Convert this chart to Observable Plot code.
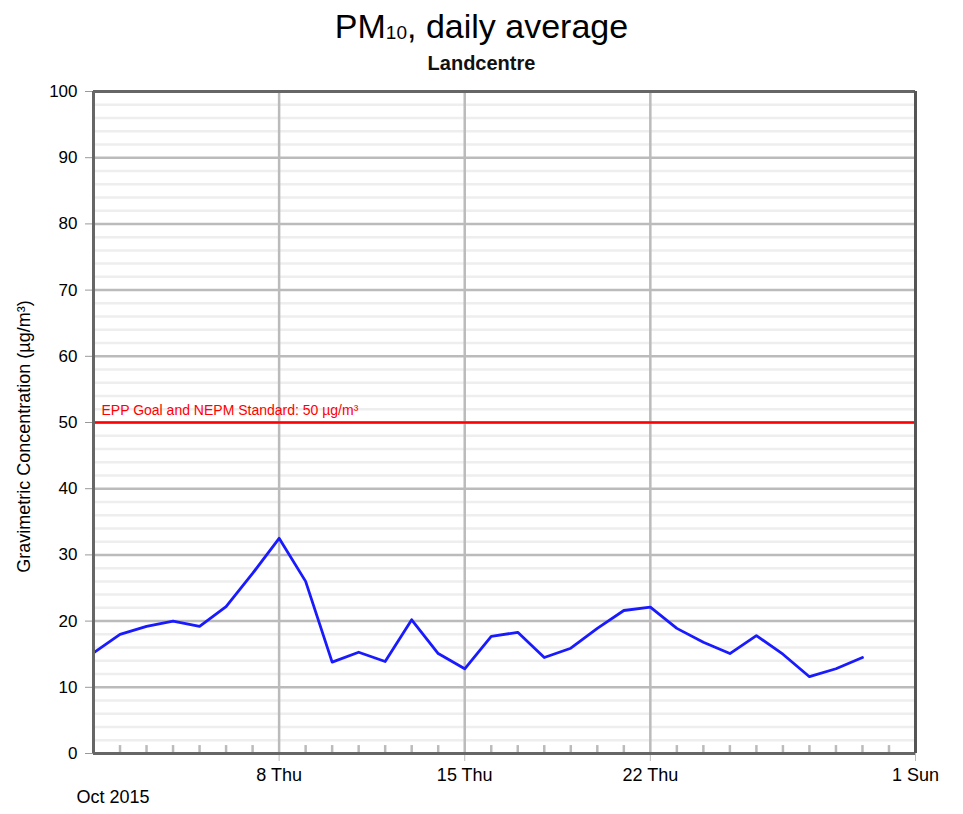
<!DOCTYPE html>
<html><head><meta charset="utf-8">
<script src="https://cdn.jsdelivr.net/npm/d3@7"></script>
<script src="https://cdn.jsdelivr.net/npm/@observablehq/plot@0.6"></script>
<style>
body{margin:0;background:#fff;font-family:"Liberation Sans",Arial,sans-serif;width:963px;height:814px;position:relative;overflow:hidden}
#title{position:absolute;left:0;top:7px;width:963px;text-align:center;font-size:34px;line-height:38px;color:#000}
#title sub{font-size:19px;vertical-align:baseline;position:relative;top:1px;line-height:0}
#subtitle{position:absolute;left:0;top:51px;width:963px;text-align:center;font-size:20px;line-height:24px;font-weight:bold;color:#111}
#chart{position:absolute;left:0;top:74px}
</style></head><body>
<div id="title">PM<sub>10</sub>, daily average</div>
<div id="subtitle">Landcentre</div>
<div id="chart"></div>
<script>
// Day of month (October 2015) and daily PM10 averages (µg/m³)
const days = [1,2,3,4,5,6,7,8,9,10,11,12,13,14,15,16,17,18,19,20,21,22,23,24,25,26,27,28,29,30];
const pm10 = [15.2,18.0,19.2,20.0,19.2,22.2,27.2,32.5,26.0,13.8,15.3,13.9,20.2,15.1,12.8,17.7,18.3,14.5,15.9,18.9,21.6,22.1,18.9,16.8,15.1,17.8,15.0,11.6,12.8,14.5];
const yMajor = [10,20,30,40,50,60,70,80,90];
const yMinor = [2,4,6,8,12,14,16,18,22,24,26,28,32,34,36,38,42,44,46,48,52,54,56,58,62,64,66,68,72,74,76,78,82,84,86,88,92,94,96,98];
const yTicks = [0,10,20,30,40,50,60,70,80,90,100];
const xTickDays = [8,15,22,32];
const xTickLabels = ["8 Thu","15 Thu","22 Thu","1 Sun"];
const allDays = [2,3,4,5,6,7,9,10,11,12,13,14,16,17,18,19,20,21,23,24,25,26,27,28,29,30,31];
const threshold = 50;
const thresholdLabel = "EPP Goal and NEPM Standard: 50 µg/m³";
const periodLabel = "Oct 2015";
const yLabel = "Gravimetric Concentration (µg/m³)";

const date = d => new Date(Date.UTC(2015, 9, d));
const data = days.map((d, i) => ({date: date(d), value: pm10[i]}));
const xTicks = xTickDays.map(date);
const fmt = new Map(xTicks.map((t, i) => [+t, xTickLabels[i]]));

const chart = Plot.plot({
  width: 963, height: 740,
  marginLeft: 93, marginRight: 48, marginTop: 17, marginBottom: 61,
  style: {fontFamily: "Liberation Sans, Arial, sans-serif", fontSize: "17px", color: "#000", background: "#fff", overflow: "visible"},
  x: {type: "utc", domain: [date(1), date(32)]},
  y: {domain: [0, 100]},
  marks: [
    Plot.ruleY(yMinor, {stroke: "#eee", strokeWidth: 2.5}),
    Plot.ruleY(yMajor, {stroke: "#bbb", strokeWidth: 2.5}),
    Plot.ruleX(xTicks.slice(0, 3), {stroke: "#bbb", strokeWidth: 2.5}),
    Plot.ruleX(allDays.map(date), {y1: 0, y2: 1.2, stroke: "#bbb", strokeWidth: 2.5}),
    Plot.ruleY([threshold], {stroke: "#f00", strokeWidth: 2.5}),
    Plot.text([thresholdLabel], {x: () => date(1), y: () => threshold, dx: 8, dy: -12, textAnchor: "start", fill: "#f00", fontSize: 14}),
    Plot.line(data, {x: "date", y: "value", stroke: "#1a1aff", strokeWidth: 2.8}),
    Plot.axisX({ticks: xTicks, tickSize: 8, tickPadding: 7, stroke: "#bbb", tickFormat: d => fmt.get(+d), label: null, fontSize: 18}),
    Plot.axisY({ticks: yTicks, tickSize: 8, tickPadding: 8, stroke: "#999", label: null, fontSize: 17}),
    Plot.ruleY([0, 100], {stroke: "#666", strokeWidth: 3}),
    Plot.ruleX([date(1)], {stroke: "#666", strokeWidth: 3}),
    Plot.ruleX([date(32)], {stroke: "#555", strokeWidth: 3}),
    Plot.text([periodLabel], {frameAnchor: "bottom-left", dx: -17, dy: 49, textAnchor: "start", fontSize: 18}),
    Plot.text([yLabel], {frameAnchor: "left", dx: -69, dy: 14, rotate: -90, textAnchor: "middle", fontSize: 18})
  ]
});
document.getElementById("chart").append(chart);
</script>
</body></html>
